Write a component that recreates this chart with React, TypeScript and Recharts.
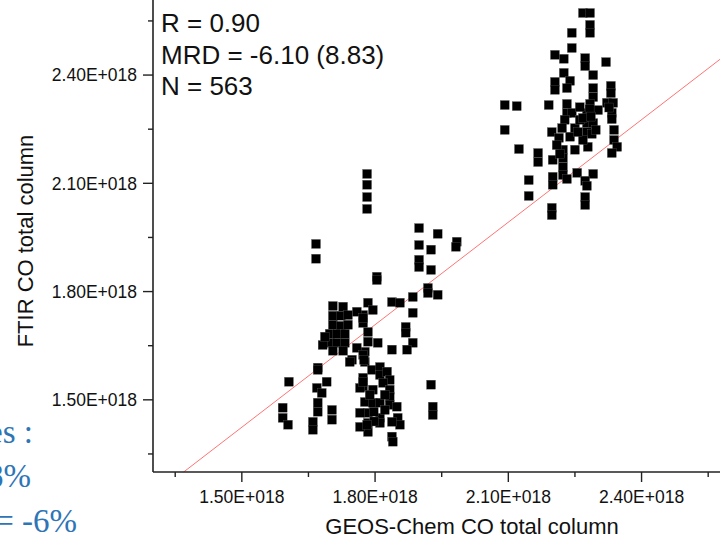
import { ScatterChart, Scatter, XAxis, YAxis, ReferenceLine } from "recharts"

// values in units of 1E+018 molecules/cm2
const xTicks = [1.35, 1.5, 1.65, 1.8, 1.95, 2.1, 2.25, 2.4, 2.55]
const yTicks = [1.35, 1.5, 1.65, 1.8, 1.95, 2.1, 2.25, 2.4, 2.55]
const majorTicks = [1.5, 1.8, 2.1, 2.4]

const xDomain = [1.3, 2.5766]
const yDomain = [1.3, 2.608]

// fitted line end points [GEOS-Chem, FTIR]
const fitStart = [1.369, 1.3]
const fitEnd = [2.5766, 2.4436]

const statLines = ["R = 0.90", "MRD = -6.10 (8.83)", "N = 563"]
const slideLines = ["differences :", "8.8%", "MRD = -6%"]

// [GEOS-Chem, FTIR]
const highCluster = [
  [2.268, 2.572], [2.284, 2.572], [2.284, 2.539], [2.284, 2.517], [2.243, 2.517], [2.243, 2.475],
  [2.205, 2.456], [2.225, 2.445], [2.273, 2.447], [2.273, 2.425], [2.32, 2.436],
  [2.225, 2.406], [2.291, 2.4],
  [2.205, 2.381], [2.205, 2.359], [2.239, 2.384], [2.232, 2.364], [2.291, 2.364], [2.291, 2.339], [2.331, 2.37], [2.331, 2.35],
  [2.092, 2.317], [2.119, 2.314], [2.191, 2.317], [2.232, 2.32], [2.284, 2.32], [2.322, 2.323], [2.336, 2.323],
  [2.232, 2.295], [2.243, 2.295], [2.277, 2.295], [2.333, 2.295], [2.227, 2.276], [2.277, 2.267], [2.291, 2.267], [2.333, 2.278],
  [2.092, 2.248], [2.198, 2.242], [2.221, 2.253], [2.25, 2.253], [2.277, 2.242], [2.288, 2.237], [2.214, 2.226], [2.239, 2.229],
  [2.338, 2.248], [2.338, 2.22], [2.345, 2.201], [2.333, 2.184], [2.279, 2.201],
  [2.124, 2.195], [2.167, 2.184], [2.167, 2.159], [2.2, 2.165], [2.223, 2.193], [2.223, 2.17], [2.223, 2.145], [2.223, 2.123],
  [2.232, 2.112], [2.2, 2.118], [2.2, 2.096], [2.255, 2.129], [2.291, 2.126], [2.273, 2.107], [2.277, 2.093],
  [2.146, 2.109], [2.146, 2.065], [2.273, 2.062], [2.273, 2.04], [2.198, 2.032], [2.198, 2.012],
  [2.261, 2.276], [2.302, 2.303], [2.268, 2.22], [2.25, 2.193], [2.209, 2.206],
  [2.261, 2.311], [2.268, 2.281], [2.297, 2.248], [2.257, 2.242],
  [2.283, 2.305], [2.286, 2.285], [2.327, 2.31], [2.216, 2.182],
]

const lowCluster = [
  [1.782, 2.126], [1.782, 2.096], [1.782, 2.062], [1.782, 2.029],
  [1.667, 1.932], [1.667, 1.891],
  [1.899, 1.976], [1.941, 1.96], [1.899, 1.929], [1.899, 1.888], [1.899, 1.868], [1.926, 1.916], [1.984, 1.938], [1.982, 1.924], [1.926, 1.86],
  [1.804, 1.841], [1.804, 1.832], [1.919, 1.81], [1.919, 1.796], [1.941, 1.791],
  [1.885, 1.785], [1.838, 1.771], [1.856, 1.769], [1.885, 1.741],
  [1.784, 1.769], [1.795, 1.749], [1.773, 1.735], [1.773, 1.713],
  [1.784, 1.688], [1.784, 1.661], [1.806, 1.658], [1.869, 1.702], [1.869, 1.686], [1.885, 1.658], [1.872, 1.639], [1.838, 1.639],
  [1.777, 1.633], [1.777, 1.605], [1.793, 1.583], [1.811, 1.591], [1.811, 1.569], [1.827, 1.578], [1.833, 1.555], [1.818, 1.547],
  [1.773, 1.561], [1.773, 1.536], [1.795, 1.528], [1.833, 1.528], [1.833, 1.508],
  [1.777, 1.494], [1.795, 1.492], [1.811, 1.492], [1.833, 1.486], [1.849, 1.481], [1.851, 1.45], [1.856, 1.431],
  [1.784, 1.464], [1.784, 1.436], [1.784, 1.411], [1.811, 1.45], [1.811, 1.436], [1.838, 1.439], [1.838, 1.398], [1.84, 1.384],
  [1.926, 1.542], [1.93, 1.481], [1.93, 1.458],
  [1.788, 1.514], [1.822, 1.514], [1.822, 1.472], [1.797, 1.467], [1.798, 1.44],
  [1.705, 1.76], [1.728, 1.758], [1.705, 1.733], [1.723, 1.733], [1.739, 1.735],
  [1.705, 1.708], [1.723, 1.705], [1.739, 1.708],
  [1.698, 1.683], [1.714, 1.683], [1.732, 1.683],
  [1.698, 1.658], [1.714, 1.658], [1.732, 1.658],
  [1.705, 1.636], [1.728, 1.636], [1.682, 1.652], [1.687, 1.675],
  [1.759, 1.744], [1.773, 1.727], [1.759, 1.644], [1.773, 1.625], [1.775, 1.611], [1.748, 1.611], [1.671, 1.589],
  [1.606, 1.55], [1.592, 1.478], [1.592, 1.45], [1.604, 1.431],
  [1.671, 1.583], [1.691, 1.55], [1.669, 1.533], [1.68, 1.519], [1.671, 1.492], [1.671, 1.467], [1.66, 1.439], [1.66, 1.417],
  [1.703, 1.472], [1.703, 1.445], [1.766, 1.533], [1.773, 1.55], [1.766, 1.464], [1.766, 1.425], [1.782, 1.431], [1.743, 1.605],
]

const FONT = '"Liberation Sans", Arial, sans-serif'
const SERIF = '"Liberation Serif", "Times New Roman", serif'
const AXIS = "#222"

const points = [...lowCluster, ...highCluster].map(([x, y]) => ({ x, y }))

const isMajor = (v: number) => majorTicks.some((m) => Math.abs(m - v) < 1e-6)
const fmt = (v: number) => `${v.toFixed(2)}E+018`

const XTick = ({ x, y, payload }: any) => {
  const major = isMajor(payload.value)
  return (
    <g>
      <line x1={x} y1={y} x2={x} y2={y + (major ? 10 : 5)} stroke={AXIS} strokeWidth={1.4} />
      {major && (
        <text x={x} y={y + 31} textAnchor="middle" fontSize={17.5} fontFamily={FONT} fill="#111">
          {fmt(payload.value)}
        </text>
      )}
    </g>
  )
}

const YTick = ({ x, y, payload }: any) => {
  const major = isMajor(payload.value)
  return (
    <g>
      <line x1={x - (major ? 10 : 5)} y1={y} x2={x} y2={y} stroke={AXIS} strokeWidth={1.4} />
      {major && (
        <text x={x - 16} y={y} dy="0.36em" textAnchor="end" fontSize={17.5} fontFamily={FONT} fill="#111">
          {fmt(payload.value)}
        </text>
      )}
    </g>
  )
}

const SquareDot = (props: any) => {
  const { cx, cy } = props
  return <rect x={cx - 4.5} y={cy - 4.5} width={9} height={9} fill="#000" stroke="#666" strokeWidth={0.3} />
}

export default function App() {
  return (
    <div style={{ position: "absolute", left: 0, top: 0, width: 720, height: 538, overflow: "hidden", background: "#fff" }}>
      <ScatterChart width={720} height={538} margin={{ top: 0, right: 0, bottom: 0, left: 0 }}>
        <XAxis
          type="number"
          dataKey="x"
          domain={xDomain}
          allowDataOverflow
          ticks={xTicks}
          interval={0}
          tick={<XTick />}
          tickLine={false}
          tickSize={0}
          tickMargin={0}
          height={66}
          axisLine={{ stroke: AXIS, strokeWidth: 1.6 }}
        />
        <YAxis
          type="number"
          dataKey="y"
          domain={yDomain}
          allowDataOverflow
          ticks={yTicks}
          interval={0}
          tick={<YTick />}
          tickLine={false}
          tickSize={0}
          tickMargin={0}
          width={153}
          axisLine={{ stroke: AXIS, strokeWidth: 1.6 }}
        />
        <Scatter data={points} shape={<SquareDot />} isAnimationActive={false} />
        <ReferenceLine
          segment={[
            { x: fitStart[0], y: fitStart[1] },
            { x: fitEnd[0], y: fitEnd[1] },
          ]}
          stroke="#ff0000"
          strokeOpacity={0.55}
          strokeWidth={1}
          ifOverflow="visible"
        />
      </ScatterChart>
      <svg width={720} height={538} style={{ position: "absolute", left: 0, top: 0, pointerEvents: "none" }}>
        {statLines.map((t, i) => (
          <text key={t} x={161} y={32 + i * 31.5} fontSize={26} fontFamily={FONT} fill="#111">
            {t}
          </text>
        ))}
        <text x={472} y={534} textAnchor="middle" fontSize={22} fontFamily={FONT} fill="#111">
          GEOS-Chem CO total column
        </text>
        <text transform="translate(33,241) rotate(-90)" textAnchor="middle" fontSize={22} fontFamily={FONT} fill="#111">
          FTIR CO total column
        </text>
        {/* slide text that runs in from the left, cropped like the reference */}
        <text x={33} y={443} textAnchor="end" fontSize={33} fontFamily={SERIF} fill="#2E75B6">
          {slideLines[0]}
        </text>
        <text x={31} y={487} textAnchor="end" fontSize={33} fontFamily={SERIF} fill="#2E75B6">
          {slideLines[1]}
        </text>
        <text x={77} y={532} textAnchor="end" fontSize={33} fontFamily={SERIF} fill="#2E75B6">
          {slideLines[2]}
        </text>
      </svg>
    </div>
  )
}
